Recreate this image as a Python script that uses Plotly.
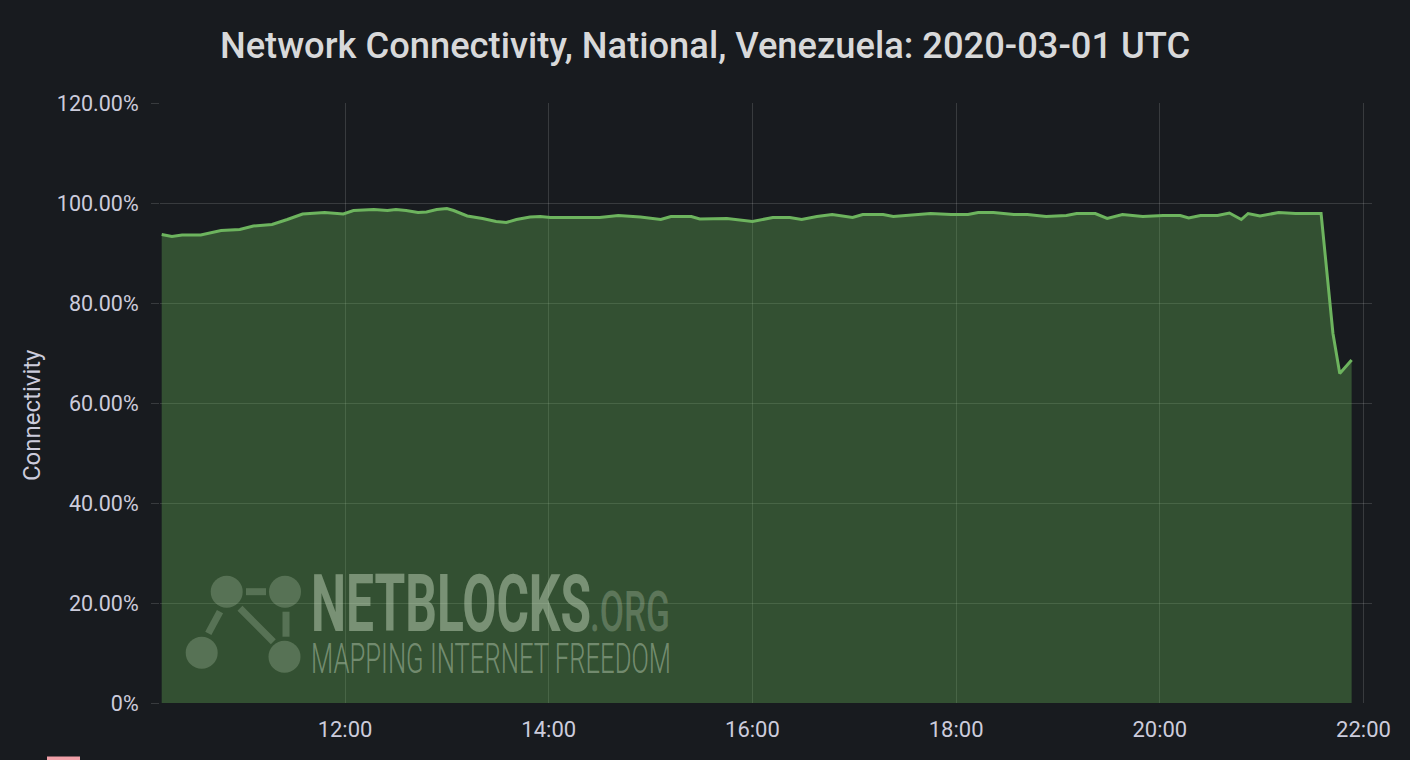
import plotly.graph_objects as go

# ---- data ----
day = "2020-03-01"
times = ["10:12", "10:18", "10:24", "10:35", "10:47", "10:58", "11:06", "11:17", "11:26", "11:35",
         "11:48", "11:59", "12:05", "12:17", "12:25", "12:30", "12:36", "12:43", "12:48", "12:54",
         "13:00", "13:04", "13:12", "13:21", "13:29", "13:35", "13:41", "13:49", "13:55", "14:01",
         "14:13", "14:30", "14:41", "14:54", "15:06", "15:12", "15:24", "15:29", "15:45", "15:51",
         "16:00", "16:12", "16:22", "16:29", "16:38", "16:47", "16:59", "17:05", "17:17", "17:23",
         "17:33", "17:45", "17:57", "18:07", "18:13", "18:22", "18:34", "18:42", "18:53", "19:05",
         "19:11", "19:22", "19:29", "19:38", "19:50", "20:02", "20:12", "20:17", "20:24", "20:34",
         "20:41", "20:48", "20:52", "20:59", "21:10", "21:20", "21:35", "21:42", "21:46", "21:53"]
connectivity = [93.7, 93.3, 93.6, 93.6, 94.5, 94.7, 95.4, 95.7, 96.7, 97.8,
                98.1, 97.8, 98.5, 98.7, 98.5, 98.7, 98.5, 98.1, 98.2, 98.7,
                98.9, 98.5, 97.4, 96.9, 96.3, 96.1, 96.7, 97.2, 97.3, 97.1,
                97.1, 97.1, 97.5, 97.2, 96.7, 97.3, 97.3, 96.8, 96.9, 96.6,
                96.3, 97.1, 97.1, 96.7, 97.3, 97.7, 97.1, 97.7, 97.7, 97.3,
                97.6, 97.9, 97.7, 97.7, 98.1, 98.1, 97.7, 97.7, 97.3, 97.5,
                97.9, 97.9, 96.9, 97.7, 97.3, 97.5, 97.5, 97.0, 97.5, 97.5,
                98.0, 96.7, 97.9, 97.4, 98.1, 97.9, 97.9, 73.9, 65.9, 68.6]

y_ticks = [0, 20, 40, 60, 80, 100, 120]
y_tick_labels = ["0%", "20.00%", "40.00%", "60.00%", "80.00%", "100.00%", "120.00%"]
x_tick_times = ["12:00", "14:00", "16:00", "18:00", "20:00", "22:00"]
x_range = ["10:11", "22:05"]

title = "Network Connectivity, National, Venezuela: 2020-03-01 UTC"
y_title = "Connectivity"

BG = "#181b1f"
GRID = "rgba(255,255,255,0.14)"
TEXT = "#ccccdc"
LINE = "#6db45e"

xs = [f"{day} {t}" for t in times]

fig = go.Figure()
fig.add_trace(go.Scatter(
    x=xs, y=connectivity, mode="lines",
    line=dict(color=LINE, width=3),
    fill="tozeroy", fillcolor="rgba(104,180,86,0.35)",
    hoverinfo="skip", showlegend=False,
))

L, R, T, B = 160, 38, 103, 57
W, H = 1410, 760
pw, ph = W - L - R, H - T - B

def px(x):
    return (x - L) / pw

def py(y):
    return (H - B - y) / ph

shapes = []
logo_col = "rgba(220,235,210,0.22)"
for cx, cy in [(226.7, 591.7), (285, 591.7), (201.7, 652.7), (284.5, 656.7)]:
    r = 16
    shapes.append(dict(type="circle", xref="paper", yref="paper",
                       x0=px(cx - r), x1=px(cx + r), y0=py(cy + r), y1=py(cy - r),
                       fillcolor=logo_col, line=dict(width=0), layer="above"))
for (x0, y0, x1, y1) in [(246, 591.7, 266, 591.7), (220, 611.7, 208.3, 633.3),
                         (240, 608.3, 273.3, 641.7), (286, 611.7, 286, 636.7)]:
    shapes.append(dict(type="line", xref="paper", yref="paper",
                       x0=px(x0), x1=px(x1), y0=py(y0), y1=py(y1),
                       line=dict(color=logo_col, width=7), layer="above"))
# cut-off legend swatch at the very bottom
shapes.append(dict(type="rect", xref="paper", yref="paper",
                   x0=px(47), x1=px(80), y0=py(760), y1=py(756.5),
                   fillcolor="#f0a0a8", line=dict(width=0)))

annotations = [
    dict(text="NETBLOCKS", x=px(310), y=py(603.5), xref="paper", yref="paper",
         xanchor="left", yanchor="middle", showarrow=False, borderpad=0,
         font=dict(family="Roboto", size=80, weight=700, color="rgba(220,235,210,0.42)")),
    dict(text=".ORG", x=px(589), y=py(612), xref="paper", yref="paper",
         xanchor="left", yanchor="middle", showarrow=False, borderpad=0,
         font=dict(family="Roboto", size=56, weight=500, color="rgba(220,235,210,0.25)")),
    dict(text="MAPPING INTERNET FREEDOM", x=px(310), y=py(658), xref="paper", yref="paper",
         xanchor="left", yanchor="middle", showarrow=False, borderpad=0,
         font=dict(family="Roboto", size=42, weight=300, color="rgba(220,235,210,0.40)")),
    dict(text=y_title, x=px(32), y=py(415), xref="paper", yref="paper",
         xanchor="center", yanchor="middle", showarrow=False, textangle=-90,
         font=dict(family="Roboto", size=24, color=TEXT)),
]

fig.update_layout(
    width=W, height=H,
    paper_bgcolor=BG, plot_bgcolor=BG,
    margin=dict(l=L, r=R, t=T, b=B),
    title=dict(text=title, x=0.5, xanchor="center", y=1 - 45 / H, yanchor="middle",
               font=dict(family="Roboto", size=36.3, color="#d8d9da", weight=500)),
    font=dict(family="Roboto", color=TEXT),
    shapes=shapes,
    annotations=annotations,
)
fig.update_xaxes(
    type="date",
    range=[f"{day} {x_range[0]}", f"{day} {x_range[1]}"],
    tickvals=[f"{day} {t}" for t in x_tick_times], ticktext=x_tick_times,
    showgrid=True, gridcolor=GRID, gridwidth=1,
    zeroline=False, showline=False, ticks="",
    tickfont=dict(size=22, color=TEXT),
    ticklabelstandoff=11,
)
fig.update_yaxes(
    range=[0, 120],
    tickvals=y_ticks, ticktext=y_tick_labels,
    showgrid=True, gridcolor=GRID, gridwidth=1,
    zeroline=False, showline=False,
    ticks="outside", ticklen=8, tickcolor=GRID,
    tickfont=dict(size=21.5, color=TEXT),
    ticklabelstandoff=8,
)

post = """
document.body.style.margin='0';
document.body.style.overflow='hidden';
document.body.style.background='#181b1f';
var gd=document.getElementById('{plot_id}');
var targets={'NETBLOCKS':280,'.ORG':80,'MAPPING INTERNET FREEDOM':360};
gd.querySelectorAll('text.annotation-text').forEach(function(t){
  var w=targets[t.textContent];
  if(!w){return;}
  var bb=t.getBBox();
  var s=w/bb.width;
  t.style.transformBox='fill-box';
  t.style.transformOrigin='0% 50%';
  t.style.transform='scaleX('+s+')';
});
"""

fig.write_html("out.html", post_script=post, config={"displayModeBar": False})
